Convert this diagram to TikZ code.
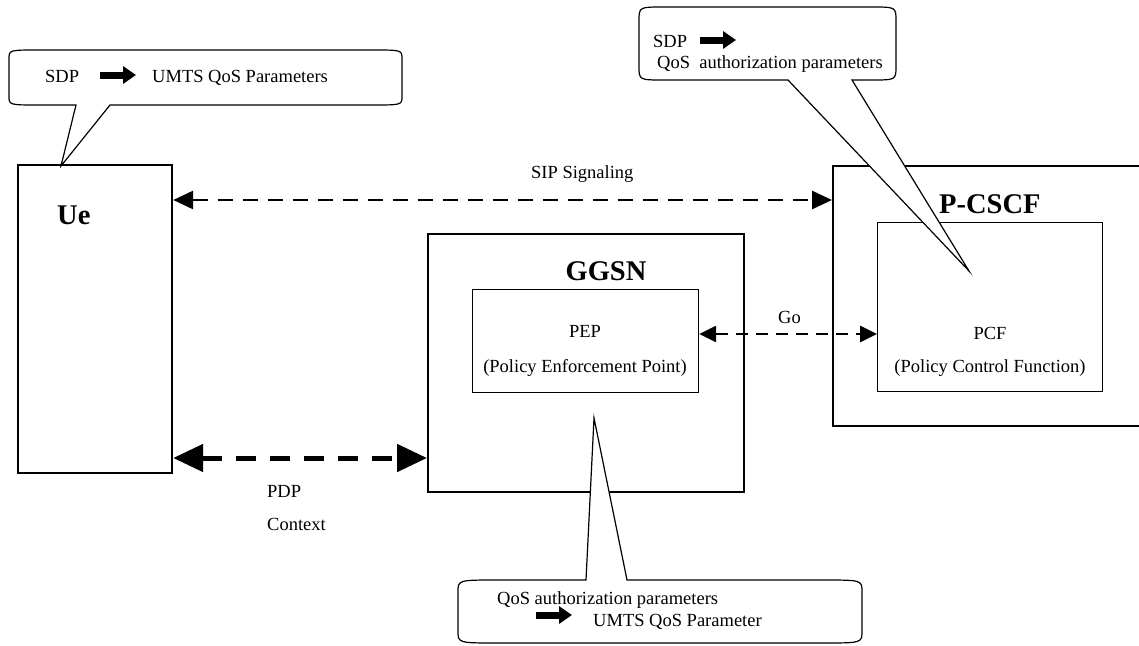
\documentclass[tikz,border=0pt]{standalone}
\usepackage{fontspec}
\setmainfont{Liberation Serif}
\usetikzlibrary{arrows.meta}
\newcommand\lblsize{\fontsize{18.5}{22}\selectfont}
\newcommand\hdsize{\fontsize{28.5}{32}\selectfont\bfseries}
\tikzset{
  outerbox/.style={draw, line width=2.2pt, inner sep=0pt, anchor=north west},
  innerbox/.style={draw, line width=1.2pt, inner sep=0pt, anchor=north west},
  lbl/.style={font=\lblsize, inner sep=0pt},
  hd/.style={font=\hdsize, inner sep=0pt},
  bubble/.style={draw, fill=white, line width=1.2pt, line join=miter},
  fatarrow/.style={line width=7pt, -{Triangle[length=13pt,width=17pt]}},
  sipline/.style={line width=2.8pt, dash pattern=on 15pt off 10pt,
    {Triangle[length=20pt,width=18pt]}-{Triangle[length=20pt,width=18pt]}},
  pdpline/.style={line width=5pt, dash pattern=on 20pt off 14pt,
    {Triangle[length=30pt,width=27pt]}-{Triangle[length=30pt,width=27pt]}},
  goline/.style={line width=2.8pt, dash pattern=on 12pt off 8pt,
    {Triangle[length=17pt,width=16pt]}-{Triangle[length=17pt,width=16pt]}},
}
\begin{document}
\begin{tikzpicture}[x=1pt, y=-1pt]
\clip (0,0) rectangle (1139,645);

% network elements
\node[outerbox, minimum width=154pt, minimum height=308pt] (ue) at (17,164) {};
\node[outerbox, minimum width=316pt, minimum height=258pt] (ggsn) at (427,233) {};
\node[innerbox, minimum width=226pt, minimum height=103pt] (pep) at (472,289) {};
\node[outerbox, minimum width=330pt, minimum height=260pt] (pcscf) at (832,165) {};
\node[innerbox, minimum width=225pt, minimum height=169pt] (pcf) at (877,222) {};

% element titles
\node[hd, anchor=base west] (uelbl) at (57,224) {Ue};
\node[hd, anchor=base] (ggsnlbl) at (606,280) {GGSN};
\node[hd, anchor=base west] (pcscflbl) at (939,213) {P-CSCF};
\node[lbl, anchor=base] (peplbl) at (585,337) {PEP};
\node[lbl, anchor=base] (pepsub) at (585,372) {(Policy Enforcement Point)};
\node[lbl, anchor=base] (pcflbl) at (990,339) {PCF};
\node[lbl, anchor=base] (pcfsub) at (990,372) {(Policy Control Function)};

% interfaces
\coordinate (sipY) at (0,200);
\coordinate (goY) at (0,334);
\coordinate (pdpY) at (0,458);
\draw[sipline] (ue.east |- sipY) -- (pcscf.west |- sipY);
\draw[goline] (pep.east |- goY) -- (pcf.west |- goY);
\draw[pdpline] (ue.east |- pdpY) -- (ggsn.west |- pdpY);
\node[lbl, anchor=base west] (siplbl) at (531,178) {SIP Signaling};
\node[lbl, anchor=base west] (golbl) at (778,323) {Go};
\node[lbl, anchor=base west] (pdplbl) at (267,497) {PDP};
\node[lbl, anchor=base west] (ctxlbl) at (267,530) {Context};

% callout at the UE
\draw[bubble] (39,50) -- (372,50) .. controls (402,50) .. (402,59) -- (402,96)
  .. controls (402,105) .. (372,105) -- (110,105) -- (61,166) -- (76,105)
  -- (39,105) .. controls (9,105) .. (9,96) -- (9,59) .. controls (9,50) .. cycle;
\node[lbl, anchor=base west] (c1a) at (45,82) {SDP};
\draw[fatarrow] (100,75) -- (136,75);
\node[lbl, anchor=base west] (c1b) at (152,82) {UMTS QoS Parameters};

% callout at the PCF
\draw[bubble] (664,7) -- (871,7) .. controls (896,7) .. (896,21) -- (896,66)
  .. controls (896,80) .. (871,80) -- (852,80) -- (969,271) -- (788,80)
  -- (664,80) .. controls (639,80) .. (639,66) -- (639,21) .. controls (639,7) .. cycle;
\node[lbl, anchor=base west] (c2a) at (653,47) {SDP};
\draw[fatarrow] (700,40) -- (736,40);
\node[lbl, anchor=base west] (c2b) at (657,68) {QoS\ \ authorization parameters};

% callout at the PEP
\draw[bubble] (498,580) -- (586,580) -- (594,418) -- (627,580) -- (822,580)
  .. controls (862,580) .. (862,592) -- (862,631) .. controls (862,643) .. (822,643)
  -- (498,643) .. controls (458,643) .. (458,631) -- (458,592) .. controls (458,580) .. cycle;
\node[lbl, anchor=base west] (c3a) at (497,604) {QoS authorization parameters};
\draw[fatarrow] (536,615) -- (572,615);
\node[lbl, anchor=base west] (c3b) at (593,626) {UMTS QoS Parameter};
\end{tikzpicture}
\end{document}
